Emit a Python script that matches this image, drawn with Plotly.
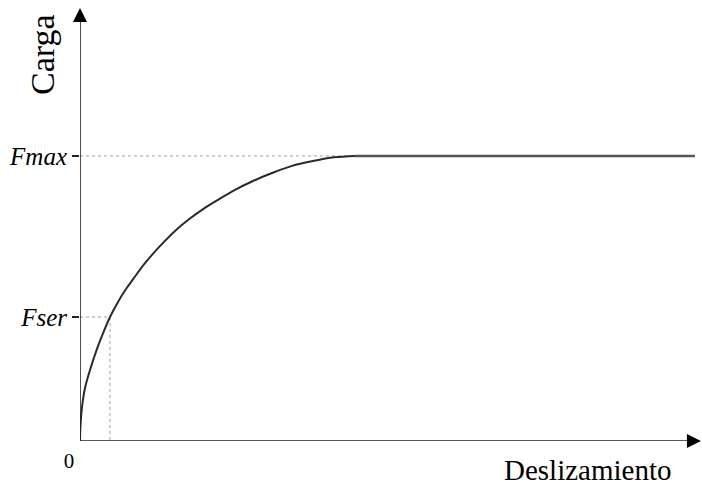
import plotly.graph_objects as go

# ---- data (Fmax normalised to 1) ----
curve_x = [0, 0.018, 0.073, 0.182, 0.364, 0.618, 0.873, 1.091, 1.382, 1.673, 1.964,
           2.255, 2.618, 3.018, 3.455, 3.927, 4.436, 5.018, 5.636, 6.291, 6.982,
           7.709, 8.473, 9.236, 10.0]
curve_y = [0, 0.056, 0.119, 0.186, 0.249, 0.323, 0.386, 0.435, 0.488, 0.533, 0.572,
           0.611, 0.653, 0.695, 0.737, 0.775, 0.811, 0.846, 0.881, 0.912, 0.940,
           0.965, 0.982, 0.995, 1.0]
plateau_x = [10.0, 22.36]
plateau_y = [1.0, 1.0]

F_max = 1.0
F_ser = 0.435
x_ser = 1.091
x_peak = 10.0

y_tick_vals = [F_ser, F_max]
y_tick_text = ["<i>Fser</i>", "<i>Fmax</i>"]
x_tick_vals = [0]
x_tick_text = ["0"]

x_axis_end = 22.58
y_axis_end = 1.519

FONT = "Liberation Serif, Times New Roman, serif"
AX = "#222222"
CURVE = "#2a2a2a"
DOT = "#a0a0a0"

fig = go.Figure()

# dotted reference lines
fig.add_trace(go.Scatter(x=[0, x_peak], y=[F_max, F_max], mode="lines",
                         line=dict(color=DOT, width=1, dash="dot"), hoverinfo="skip"))
fig.add_trace(go.Scatter(x=[0, x_ser, x_ser], y=[F_ser, F_ser, 0], mode="lines",
                         line=dict(color=DOT, width=1, dash="dot"), hoverinfo="skip"))

# load-slip curve
fig.add_trace(go.Scatter(x=curve_x, y=curve_y, mode="lines",
                         line=dict(color=CURVE, width=2, shape="spline", smoothing=1.0),
                         hoverinfo="skip"))
fig.add_trace(go.Scatter(x=plateau_x, y=plateau_y, mode="lines",
                         line=dict(color="#555555", width=2.5), hoverinfo="skip"))

# axes with arrows
fig.add_trace(go.Scatter(x=[0, 0], y=[0, y_axis_end - 0.03], mode="lines",
                         line=dict(color=AX, width=1.6), hoverinfo="skip", cliponaxis=False))
fig.add_trace(go.Scatter(x=[0, x_axis_end - 0.3], y=[0, 0], mode="lines",
                         line=dict(color=AX, width=1.6), hoverinfo="skip", cliponaxis=False))
fig.add_trace(go.Scatter(x=[0], y=[y_axis_end], mode="markers",
                         marker=dict(symbol="arrow-up", size=14, color="black",
                                     line=dict(width=0)),
                         hoverinfo="skip", cliponaxis=False))
fig.add_trace(go.Scatter(x=[x_axis_end], y=[0], mode="markers",
                         marker=dict(symbol="arrow-right", size=14, color="black",
                                     line=dict(width=0)),
                         hoverinfo="skip", cliponaxis=False))

fig.update_layout(
    width=702, height=486,
    margin=dict(l=80, r=0, t=0, b=45),
    paper_bgcolor="white", plot_bgcolor="white",
    showlegend=False,
    font=dict(family=FONT, color="black"),
    xaxis=dict(range=[0, 22.618], showgrid=False, zeroline=False, showline=False,
               tickvals=x_tick_vals, ticktext=x_tick_text, ticks="",
               ticklabelshift=-11, ticklabelstandoff=5,
               tickfont=dict(size=21, family=FONT), fixedrange=True, automargin=False),
    yaxis=dict(range=[0, 1.547], showgrid=False, zeroline=False, showline=False,
               tickvals=y_tick_vals, ticktext=y_tick_text, ticks="outside",
               ticklen=7, tickwidth=1.5, tickcolor=AX,
               tickfont=dict(size=25, family=FONT), fixedrange=True, automargin=False),
    annotations=[
        dict(text="Carga", xref="paper", yref="paper", x=(43 - 80) / 622, y=(441 - 55) / 441,
             textangle=-90, showarrow=False, font=dict(size=34, family=FONT),
             xanchor="center", yanchor="middle"),
        dict(text="Deslizamiento", xref="paper", yref="paper", x=(588 - 80) / 622,
             y=(441 - 470) / 441,
             showarrow=False, font=dict(size=29, family=FONT),
             xanchor="center", yanchor="middle"),
    ],
)

fig.write_html("out.html", config={"displayModeBar": False},
               post_script="document.body.style.margin='0';document.body.style.overflow='hidden';")
